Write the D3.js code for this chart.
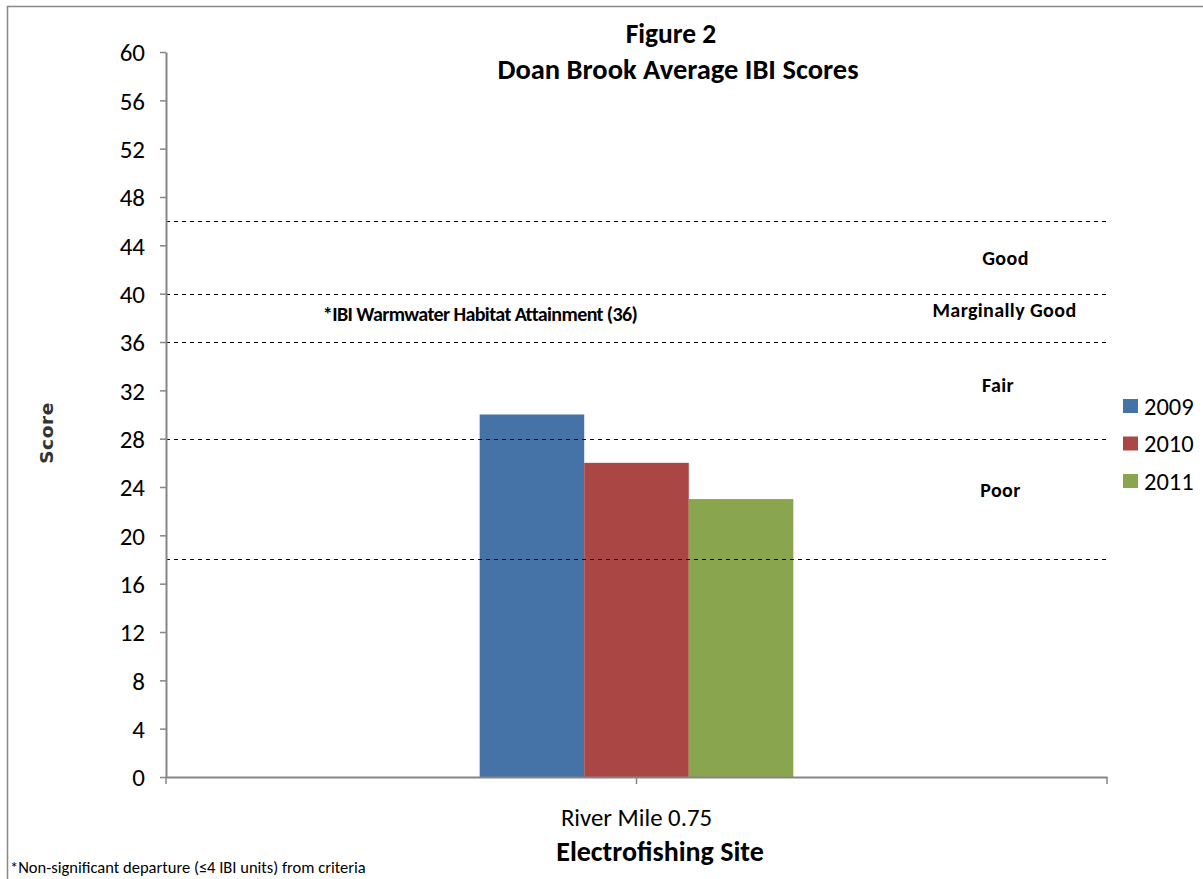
<!DOCTYPE html>
<html>
<head>
<meta charset="utf-8">
<script src="https://cdn.jsdelivr.net/npm/d3@7"></script>
<style>
  body { margin: 0; background: #fff; }
  svg, svg text { font-family: Carlito, Calibri, Lato, "Open Sans", sans-serif; }
</style>
</head>
<body>
<div id="chart"></div>
<script>
// data
var sites = ["River Mile 0.75"];
var years = ["2009", "2010", "2011"];
var scores = [30, 26, 23];
var colors = ["#4572a7", "#aa4643", "#89a54e"];
var yTicks = d3.range(0, 61, 4);
var thresholds = [46, 40, 36, 28, 18];
var bandLabels = ["Good", "Marginally Good", "Fair", "Poor"];
var bandLabelValues = [42.35, 38.1, 31.9, 23.2];
var attainLabel = "*IBI Warmwater Habitat Attainment (36)";

var W = 1203, H = 879;
var margin = { top: 52, right: 96, bottom: 102, left: 166 },
    width = W - margin.left - margin.right,
    height = H - margin.top - margin.bottom;

var svg = d3.select("#chart").append("svg")
    .attr("width", W)
    .attr("height", H);

// outer frame (only top & left visible in the crop)
svg.append("path")
    .attr("d", "M7.5," + H + "V6.5H" + W)
    .attr("fill", "none")
    .attr("stroke", "#888")
    .attr("stroke-width", 1.5);

var g = svg.append("g")
    .attr("transform", "translate(" + margin.left + "," + margin.top + ")");

var x0 = d3.scaleBand().domain(sites).range([0, width]).paddingInner(0.5).paddingOuter(0.5);
var x1 = d3.scaleBand().domain(years).range([0, x0.bandwidth()]);
var y = d3.scaleLinear().domain([0, 60]).range([height, 0]);

// bars
var rows = years.map(function (yr, i) { return { site: sites[0], year: yr, score: scores[i], color: colors[i] }; });
g.selectAll("rect.bar")
    .data(rows)
    .join("rect")
    .attr("class", "bar")
    .attr("x", function (d) { return x0(d.site) + x1(d.year); })
    .attr("y", function (d) { return y(d.score); })
    .attr("width", x1.bandwidth())
    .attr("height", function (d) { return height - y(d.score); })
    .attr("fill", function (d) { return d.color; });

// threshold lines, drawn over bars
g.selectAll("line.thr")
    .data(thresholds)
    .join("line")
    .attr("class", "thr")
    .attr("x1", 0)
    .attr("x2", width)
    .attr("y1", function (d) { return Math.round(y(d)) + 0.5; })
    .attr("y2", function (d) { return Math.round(y(d)) + 0.5; })
    .attr("stroke", "#000")
    .attr("stroke-width", 1.2)
    .attr("stroke-dasharray", "4,4");

// y axis
var yAxis = g.append("g")
    .call(d3.axisLeft(y).tickValues(yTicks).tickSize(6).tickPadding(15).tickSizeOuter(0))
    .attr("font-family", null);
yAxis.select(".domain").attr("stroke", "#868686").attr("stroke-width", 2);
yAxis.selectAll(".tick line").attr("stroke", "#868686").attr("stroke-width", 1.5);
yAxis.selectAll(".tick text")
    .attr("fill", "#000")
    .style("font-size", "25px")
    .attr("dy", "0.35em");

// x axis
var xAxis = g.append("g")
    .attr("transform", "translate(0," + height + ")")
    .call(d3.axisBottom(x0).tickSize(0).tickFormat(""))
    .attr("font-family", null);
xAxis.select(".domain").attr("stroke", "#868686").attr("stroke-width", 2);
[0, width / 2, width].forEach(function (px) {
    xAxis.append("line")
        .attr("x1", px).attr("x2", px)
        .attr("y1", 0).attr("y2", 7)
        .attr("stroke", "#868686")
        .attr("stroke-width", 1.5);
});
xAxis.append("text")
    .attr("x", x0(sites[0]) + x0.bandwidth() / 2)
    .attr("y", 49)
    .attr("text-anchor", "middle")
    .attr("fill", "#000")
    .style("font-size", "24.8px")
    .text(sites[0]);

// band labels
g.selectAll("text.band")
    .data(bandLabels)
    .join("text")
    .attr("class", "band")
    .attr("x", function (d, i) { return [839.5, 838.5, 832, 834.5][i]; })
    .attr("y", function (d, i) { return y(bandLabelValues[i]); })
    .attr("text-anchor", "middle")
    .style("font-size", "20px")
    .style("font-weight", 700)
    .style("letter-spacing", "0.4px")
    .text(function (d) { return d; });

g.append("text")
    .attr("x", 314)
    .attr("y", y(37.7))
    .attr("text-anchor", "middle")
    .style("font-size", "20px")
    .style("font-weight", 700)
    .style("letter-spacing", "-0.6px")
    .text(attainLabel);

// titles
svg.append("text")
    .attr("x", 671).attr("y", 43)
    .attr("text-anchor", "middle")
    .style("font-size", "27.5px").style("font-weight", 700)
    .text("Figure 2");
svg.append("text")
    .attr("x", 678).attr("y", 79)
    .attr("text-anchor", "middle")
    .style("font-size", "28.5px").style("font-weight", 700)
    .text("Doan Brook Average IBI Scores");

svg.append("text")
    .attr("x", 660).attr("y", 861)
    .attr("text-anchor", "middle")
    .style("font-size", "28px").style("font-weight", 700)
    .text("Electrofishing Site");

svg.append("text")
    .attr("transform", "translate(53,433) rotate(-90)")
    .attr("text-anchor", "middle")
    .style("font-family", "'DejaVu Sans', sans-serif")
    .style("font-size", "18.5px").style("font-weight", 700)
    .style("letter-spacing", "0.6px")
    .attr("fill", "#333")
    .text("Score");

svg.append("text")
    .attr("x", 10).attr("y", 873)
    .style("font-size", "16.5px")
    .text("*Non-significant departure (\u22644 IBI units) from criteria");

// legend
var legend = svg.append("g").attr("transform", "translate(1123,399)");
var items = legend.selectAll("g")
    .data(years)
    .join("g")
    .attr("transform", function (d, i) { return "translate(0," + i * 37.5 + ")"; });
items.append("rect")
    .attr("width", 15).attr("height", 14)
    .attr("fill", function (d, i) { return colors[i]; });
items.append("text")
    .attr("x", 21).attr("y", 15.5)
    .style("font-size", "24.5px")
    .text(function (d) { return d; });
</script>
</body>
</html>
